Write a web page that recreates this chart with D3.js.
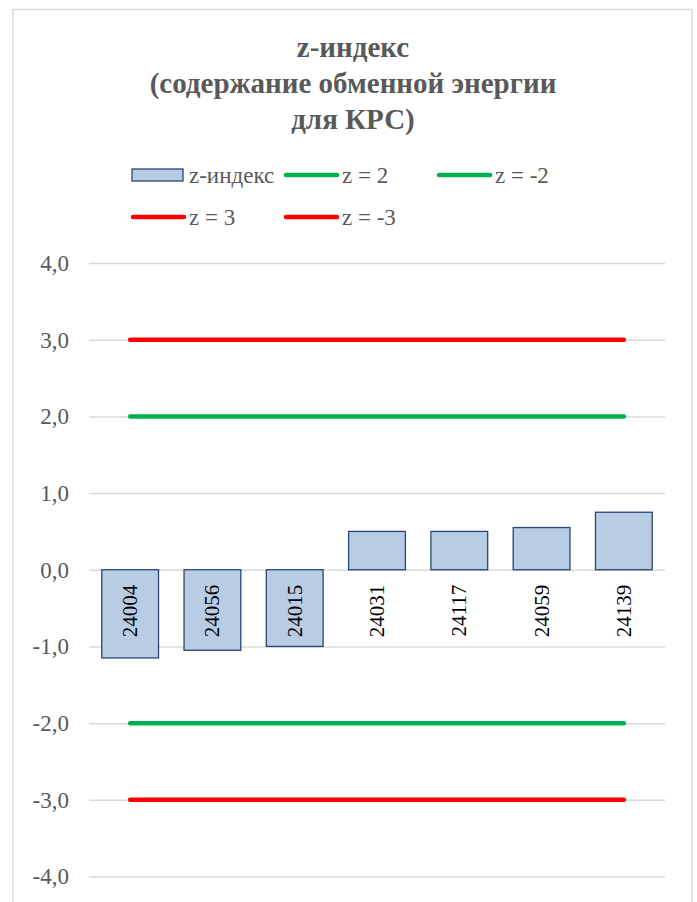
<!DOCTYPE html>
<html>
<head>
<meta charset="utf-8">
<script src="https://cdn.jsdelivr.net/npm/d3@7"></script>
<style>
  body { margin: 0; font-family: 'Liberation Serif', 'Times New Roman', serif; }
  #chart text { font-family: 'Liberation Serif', 'Times New Roman', serif !important; }
</style>
</head>
<body>
<svg id="chart" width="697" height="902"></svg>
<script>
// data
const categories = ['24004', '24056', '24015', '24031', '24117', '24059', '24139'];
const zValues = [-1.15, -1.05, -1.0, 0.5, 0.5, 0.55, 0.75];
const yTicks = [-4, -3, -2, -1, 0, 1, 2, 3, 4];
const titleLines = ['z-индекс', '(содержание обменной энергии', 'для КРС)'];
const refLines = [
  { name: 'z = 2', value: 2, colour: '#00b050' },
  { name: 'z = -2', value: -2, colour: '#00b050' },
  { name: 'z = 3', value: 3, colour: '#ff0000' },
  { name: 'z = -3', value: -3, colour: '#ff0000' }
];

const width = 697, height = 902;
const margin = { top: 263, right: 32, bottom: 25.5, left: 89 };
const textGrey = '#595959';

const svg = d3.select('#chart');

// chart frame
svg.append('rect')
  .attr('x', 13).attr('y', 9.5)
  .attr('width', 679).attr('height', 920)
  .attr('fill', '#fff')
  .attr('stroke', '#d9d9d9')
  .attr('stroke-width', 1.5);

// title
svg.append('g')
  .selectAll('text')
  .data(titleLines)
  .join('text')
  .attr('x', 353)
  .attr('y', (d, i) => 57 + i * 36)
  .attr('text-anchor', 'middle')
  .attr('font-size', 29)
  .attr('font-weight', 'bold')
  .attr('fill', textGrey)
  .text(d => d);

// scales
const x = d3.scaleBand()
  .domain(categories)
  .range([margin.left, width - margin.right])
  .paddingInner(0.31)
  .paddingOuter(0.155);

const y = d3.scaleLinear()
  .domain([-4, 4])
  .range([height - margin.bottom, margin.top]);

// gridlines
svg.append('g')
  .attr('transform', `translate(${margin.left},0)`)
  .call(d3.axisLeft(y)
    .tickValues(yTicks)
    .tickSize(-(width - margin.left - margin.right))
    .tickFormat(''))
  .call(g => g.select('.domain').remove())
  .call(g => g.selectAll('line').attr('stroke', '#d9d9d9').attr('stroke-width', 1.5));

// y axis labels
svg.append('g')
  .attr('transform', `translate(${margin.left - 20},0)`)
  .call(d3.axisLeft(y)
    .tickValues(yTicks)
    .tickSize(0)
    .tickPadding(0)
    .tickFormat(d => d3.format('.1f')(d).replace('.', ',').replace('−', '-')))
  .call(g => g.select('.domain').remove())
  .call(g => g.attr('font-family', null).attr('font-size', null))
  .call(g => g.selectAll('text')
    .attr('font-size', 23)
    .attr('fill', textGrey));

// bars
const bars = categories.map((c, i) => ({ cat: c, value: zValues[i] }));
svg.append('g')
  .selectAll('rect')
  .data(bars)
  .join('rect')
  .attr('x', d => x(d.cat))
  .attr('width', x.bandwidth())
  .attr('y', d => y(Math.max(0, d.value)))
  .attr('height', d => Math.abs(y(d.value) - y(0)))
  .attr('fill', '#b8cce4')
  .attr('stroke', '#2a4675')
  .attr('stroke-width', 1.3);

// category labels, rotated, below zero line
svg.append('g')
  .selectAll('text')
  .data(categories)
  .join('text')
  .attr('transform', d => `translate(${x(d) + x.bandwidth() / 2 + 7},${y(0) + 15}) rotate(-90)`)
  .attr('text-anchor', 'end')
  .attr('font-size', 21)
  .attr('fill', '#000')
  .text(d => d);

// reference lines from first to last category centre
const x0 = x(categories[0]) + x.bandwidth() / 2;
const x1 = x(categories[categories.length - 1]) + x.bandwidth() / 2;
svg.append('g')
  .selectAll('line')
  .data(refLines)
  .join('line')
  .attr('x1', x0).attr('x2', x1)
  .attr('y1', d => y(d.value)).attr('y2', d => y(d.value))
  .attr('stroke', d => d.colour)
  .attr('stroke-width', 4.5)
  .attr('stroke-linecap', 'round');

// legend
const legendItems = [{ name: 'z-индекс', type: 'bar' }]
  .concat(refLines.map(d => ({ name: d.name, type: 'line', colour: d.colour })));
const colX = [132, 285, 438];
const rowY = [175, 217];

const legend = svg.append('g')
  .selectAll('g')
  .data(legendItems)
  .join('g')
  .attr('transform', (d, i) => `translate(${colX[i % 3]},${rowY[Math.floor(i / 3)]})`);

legend.filter(d => d.type === 'bar')
  .append('rect')
  .attr('x', 0).attr('y', -6)
  .attr('width', 51).attr('height', 12)
  .attr('fill', '#b8cce4')
  .attr('stroke', '#2a4675')
  .attr('stroke-width', 1.3);

legend.filter(d => d.type === 'line')
  .append('line')
  .attr('x1', 1).attr('x2', 52)
  .attr('y1', 0).attr('y2', 0)
  .attr('stroke', d => d.colour)
  .attr('stroke-width', 4.5)
  .attr('stroke-linecap', 'round');

legend.append('text')
  .attr('x', 57)
  .attr('y', 8)
  .attr('font-size', 23)
  .attr('fill', textGrey)
  .text(d => d.name);
</script>
</body>
</html>
